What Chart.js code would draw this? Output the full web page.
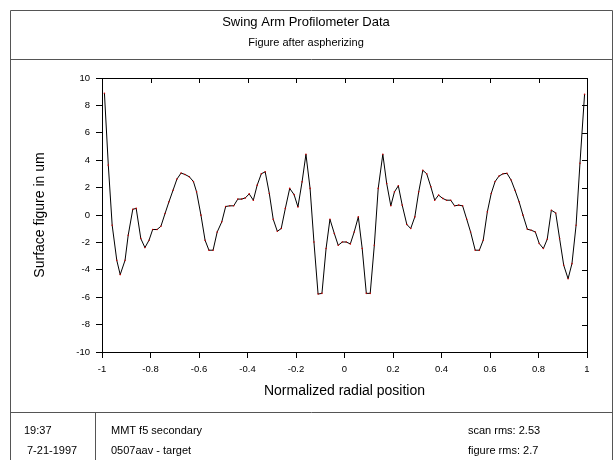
<!DOCTYPE html>
<html>
<head>
<meta charset="utf-8">
<script src="https://cdn.jsdelivr.net/npm/chart.js@4"></script>
<style>
html,body{margin:0;padding:0;background:#fff;}
#wrap{position:relative;width:613px;height:460px;}
canvas{display:block;}
</style>
</head>
<body>
<div id="wrap"><canvas id="c" width="613" height="460"></canvas></div>
<script>
// ---- data ----
const radialPos = [
 -0.990,-0.974,-0.958,-0.939,-0.925,-0.905,-0.892,-0.873,-0.859,-0.840,
 -0.823,-0.806,-0.791,-0.773,-0.757,-0.740,-0.724,-0.707,-0.691,-0.674,
 -0.658,-0.640,-0.623,-0.610,-0.592,-0.575,-0.559,-0.542,-0.525,-0.506,
 -0.490,-0.473,-0.457,-0.440,-0.424,-0.409,-0.393,-0.376,-0.360,-0.343,
 -0.327,-0.310,-0.294,-0.277,-0.261,-0.244,-0.226,-0.208,-0.192,-0.175,
 -0.159,-0.142,-0.126,-0.109,-0.093,-0.076,-0.060,-0.042,-0.026,-0.009,
  0.007, 0.024, 0.040, 0.057, 0.073, 0.090, 0.106, 0.123, 0.139, 0.158,
  0.174, 0.191, 0.206, 0.222, 0.238, 0.257, 0.273, 0.290, 0.306, 0.323,
  0.339, 0.356, 0.372, 0.388, 0.405, 0.421, 0.438, 0.454, 0.471, 0.487,
  0.504, 0.520, 0.539, 0.556, 0.572, 0.589, 0.605, 0.621, 0.637, 0.654,
  0.670, 0.687, 0.703, 0.720, 0.736, 0.754, 0.770, 0.787, 0.803, 0.820,
  0.836, 0.853, 0.871, 0.887, 0.904, 0.922, 0.938, 0.955, 0.971, 0.990
];
const surfaceFigure = [
  8.89, 3.64,-0.75,-3.31,-4.35,-3.31,-1.48, 0.42, 0.48,-1.72,
 -2.38,-1.84,-1.06,-1.06,-0.82, 0.11, 0.96, 1.81, 2.62, 3.06,
  2.96, 2.79, 2.44, 1.69,-0.01,-1.84,-2.57,-2.57,-1.24,-0.50,
  0.62, 0.67, 0.67, 1.16, 1.16, 1.25, 1.54, 1.08, 2.18, 3.01,
  3.15, 1.57,-0.31,-1.19,-0.99, 0.48, 1.94, 1.49, 0.59, 2.42,
  4.43, 1.94,-1.97,-5.77,-5.72,-2.45,-0.31,-1.35,-2.21,-1.97,
 -1.97,-2.11,-1.24,-0.14,-2.45,-5.72,-5.72,-2.21, 1.94, 4.43,
  2.30, 0.67, 1.69, 2.13, 0.72,-0.69,-0.99,-0.14, 1.69, 3.26,
  3.01, 2.06, 1.08, 1.45, 1.21, 1.08, 1.08, 0.67, 0.72, 0.67,
 -0.31,-1.24,-2.57,-2.57,-1.84, 0.23, 1.57, 2.44, 2.84, 3.01,
  3.04, 2.55, 1.81, 0.96,-0.01,-1.04,-1.11,-1.24,-2.08,-2.45,
 -1.77, 0.35, 0.15,-1.72,-3.67,-4.65,-3.55,-0.75, 3.77, 8.81
];
const xTickValues = [-1,-0.8,-0.6,-0.4,-0.2,0,0.2,0.4,0.6,0.8,1];
const xTickLabels = ['-1','-0.8','-0.6','-0.4','-0.2','0','0.2','0.4','0.6','0.8','1'];
const yTickValues = [-10,-8,-6,-4,-2,0,2,4,6,8,10];
const yTickLabels = ['-10','-8','-6','-4','-2','0','2','4','6','8','10'];
const titleText = 'Swing Arm Profilometer Data';
const subtitleText = 'Figure after aspherizing';
const xTitle = 'Normalized radial position';
const yTitle = 'Surface figure in um';
const footerLeft = ['19:37','7-21-1997'];
const footerMid = ['MMT f5 secondary','0507aav - target'];
const footerRight = ['scan rms: 2.53','figure rms: 2.7'];

const FONT = "'Liberation Sans', Arial, Helvetica, sans-serif";

const framePlugin = {
  id: 'frame',
  afterDraw(chart) {
    const ctx = chart.ctx;
    const a = chart.chartArea;
    const xs = chart.scales.x, ys = chart.scales.y;
    ctx.save();
    // plot box top/right with inward ticks
    ctx.strokeStyle = '#000';
    ctx.lineWidth = 1;
    ctx.beginPath();
    ctx.moveTo(a.left, a.top + 0.5); ctx.lineTo(a.right + 0.5, a.top + 0.5);
    ctx.moveTo(a.right + 0.5, a.top); ctx.lineTo(a.right + 0.5, a.bottom);
    xs.ticks.forEach(t => { const p = Math.round(xs.getPixelForValue(t.value)) + 0.5; ctx.moveTo(p, a.top); ctx.lineTo(p, a.top + 5); });
    ys.ticks.forEach(t => { const p = Math.round(ys.getPixelForValue(t.value)) + 0.5; ctx.moveTo(a.right - 5, p); ctx.lineTo(a.right, p); });
    ctx.stroke();
    // outer frame
    ctx.strokeStyle = '#555';
    ctx.beginPath();
    ctx.moveTo(10.5, 10.5); ctx.lineTo(612.5, 10.5);
    ctx.moveTo(10.5, 10.5); ctx.lineTo(10.5, 460);
    ctx.moveTo(612.5, 10.5); ctx.lineTo(612.5, 460);
    ctx.moveTo(10.5, 59.5); ctx.lineTo(612.5, 59.5);
    ctx.moveTo(10.5, 412.5); ctx.lineTo(612.5, 412.5);
    ctx.moveTo(95.5, 412.5); ctx.lineTo(95.5, 460);
    ctx.stroke();
    // titles
    ctx.fillStyle = '#000';
    ctx.textAlign = 'center';
    ctx.textBaseline = 'middle';
    ctx.font = '13px ' + FONT;
    ctx.fillText(titleText, 306, 22);
    ctx.font = '11px ' + FONT;
    ctx.fillText(subtitleText, 306, 43);
    // footer
    ctx.textAlign = 'left';
    ctx.font = '11px ' + FONT;
    const rows = [431, 451];
    rows.forEach((y, i) => {
      ctx.fillText(footerLeft[i], i === 0 ? 24 : 27, y);
      ctx.fillText(footerMid[i], 111, y);
      ctx.fillText(footerRight[i], 468, y);
    });
    ctx.restore();
  }
};

new Chart(document.getElementById('c'), {
  type: 'scatter',
  data: {
    datasets: [{
      data: radialPos.map((x, i) => ({x: x, y: surfaceFigure[i]})),
      showLine: true,
      borderColor: '#000',
      borderWidth: 1,
      pointRadius: 0.8,
      pointBorderWidth: 0,
      pointBackgroundColor: '#c00000',
      tension: 0
    }]
  },
  options: {
    responsive: false,
    animation: false,
    devicePixelRatio: 1,
    layout: { padding: { left: 0, right: 26, top: 78, bottom: 0 } },
    plugins: { legend: { display: false }, tooltip: { enabled: false } },
    scales: {
      x: {
        type: 'linear', min: -1, max: 1,
        afterBuildTicks: s => { s.ticks = xTickValues.map(v => ({value: v})); },
        afterFit: s => { s.height = 108; },
        grid: { drawOnChartArea: false, tickLength: 6, color: '#000' },
        border: { display: true, color: '#000', width: 1 },
        ticks: { color: '#000', font: { family: FONT, size: 9.5 }, padding: 6, maxRotation: 0,
          callback: (v, i) => xTickLabels[i] },
        title: { display: true, text: xTitle, color: '#000', font: { family: FONT, size: 14 }, padding: { top: 0, bottom: 60 } }
      },
      y: {
        type: 'linear', min: -10, max: 10,
        afterBuildTicks: s => { s.ticks = yTickValues.map(v => ({value: v})); },
        afterFit: s => { s.width = 102; },
        grid: { drawOnChartArea: false, tickLength: 6, color: '#000' },
        border: { display: true, color: '#000', width: 1 },
        ticks: { color: '#000', font: { family: FONT, size: 9.5 }, padding: 6,
          callback: (v, i) => yTickLabels[i] },
        title: { display: true, text: yTitle, color: '#000', font: { family: FONT, size: 14 }, padding: { top: 32, bottom: 0 } }
      }
    }
  },
  plugins: [framePlugin]
});
</script>
</body>
</html>
